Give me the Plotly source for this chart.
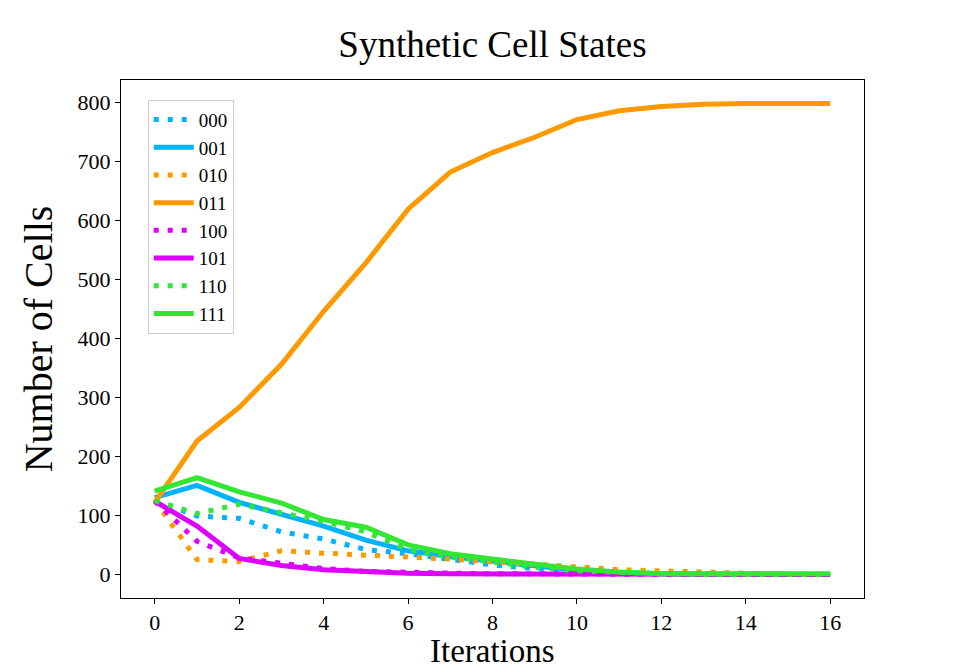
import plotly.graph_objects as go

# iteration index
iterations = list(range(17))

# cell counts per state
s000 = [125, 99, 95, 72, 60, 42, 35, 25, 16, 10, 5, 2, 1, 0, 0, 0, 0]
s001 = [130, 151, 122, 102, 82, 58, 40, 30, 22, 14, 7, 3, 1, 0, 0, 0, 0]
s010 = [125, 25, 22, 40, 36, 33, 30, 26, 21, 18, 13, 8, 6, 3, 1, 0, 0]
s011 = [122, 226, 283, 356, 446, 528, 619, 682, 715, 741, 771, 786, 793, 797, 798, 798, 798]
s100 = [125, 56, 28, 18, 10, 5, 3, 2, 1, 1, 0, 0, 0, 0, 0, 0, 0]
s101 = [124, 82, 27, 15, 8, 4, 2, 1, 1, 0, 0, 0, 0, 0, 0, 0, 0]
s110 = [125, 103, 119, 104, 90, 72, 42, 30, 20, 12, 6, 3, 1, 0, 0, 0, 0]
s111 = [141, 164, 140, 121, 93, 80, 50, 35, 26, 18, 9, 4, 1, 1, 1, 1, 1]

labels = ["000", "001", "010", "011", "100", "101", "110", "111"]
series = [s000, s001, s010, s011, s100, s101, s110, s111]

BLUE = "#00B2FF"
ORANGE = "#FF9900"
MAGENTA = "#DD00FF"
GREEN = "#33E633"
colors = [BLUE, BLUE, ORANGE, ORANGE, MAGENTA, MAGENTA, GREEN, GREEN]

FONT = "Liberation Serif"

fig = go.Figure()
for i, (name, vals) in enumerate(zip(labels, series)):
    dotted = i % 2 == 0
    fig.add_trace(go.Scatter(
        x=iterations, y=vals,
        mode="lines",
        name=name,
        line=dict(color=colors[i], width=5,
                  dash="5px,9px" if dotted else "solid"),
    ))

axis_common = dict(
    showline=True, linecolor="black", linewidth=1, mirror=True,
    ticks="outside", ticklen=5, tickcolor="black",
    showgrid=False, zeroline=False,
    tickfont=dict(family=FONT, size=22, color="black"),
)

# the page body adds an 8px offset, margins below account for it
fig.update_layout(
    width=960, height=672,
    paper_bgcolor="white", plot_bgcolor="white",
    margin=dict(l=113, r=104, t=72, b=82),
    font=dict(family=FONT, color="black"),
    title=dict(text="Synthetic Cell States", x=0.5, xanchor="center",
               xref="paper", y=0.947, yanchor="middle",
               font=dict(family=FONT, size=37, color="black")),
    xaxis=dict(range=[-0.8, 16.8], tickvals=list(range(0, 17, 2)),
               **axis_common),
    yaxis=dict(range=[-40, 838], tickvals=list(range(0, 801, 100)),
               title=dict(text="Number of Cells", standoff=12,
                          font=dict(family=FONT, size=40)),
               **axis_common),
    legend=dict(x=0.036, y=0.962, xanchor="left", yanchor="top",
                bgcolor="white", bordercolor="#cccccc", borderwidth=1,
                font=dict(family=FONT, size=19), itemwidth=40),
    showlegend=True,
)

# x-axis title as an annotation so it sits inside the visible page
fig.add_annotation(text="Iterations", xref="paper", yref="paper",
                   x=0.5, y=-0.141, xanchor="center", yanchor="bottom",
                   showarrow=False, font=dict(family=FONT, size=33))

fig.write_html("out.html")
